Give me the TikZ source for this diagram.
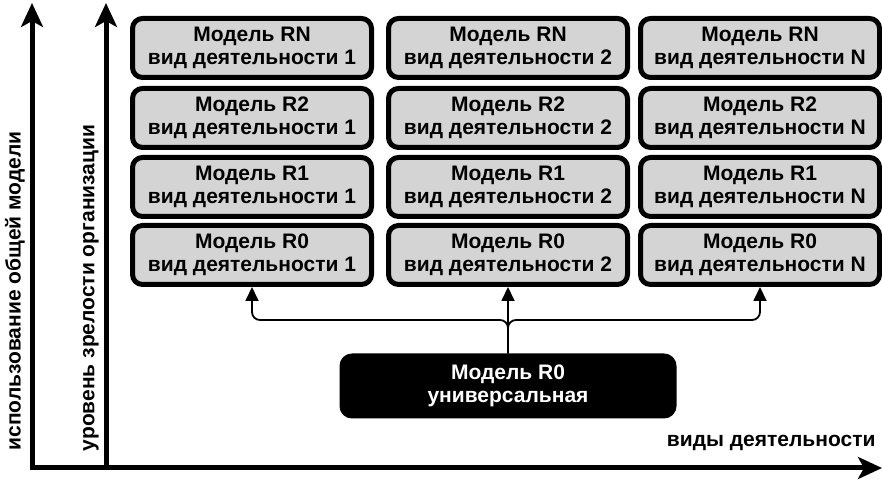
\documentclass[tikz,border=0pt]{standalone}
\usepackage{fontspec}
\setmainfont{Liberation Sans}
\usetikzlibrary{arrows.meta}

\begin{document}
\begin{tikzpicture}[x=1pt,y=1pt,line join=round,
  font=\fontsize{21}{23}\selectfont\bfseries,
  model/.style={draw=black,line width=5pt,fill=black!17,rounded corners=10pt,
    minimum width=239pt,minimum height=59pt,inner sep=0pt,align=center},
  univ/.style={model,fill=black,text=white,minimum width=332pt,minimum height=60pt},
  link/.style={line width=1.8pt,rounded corners=8pt,-{Triangle[length=14pt,width=13pt]}},
  axis/.style={line width=5pt,-{Stealth[length=24pt,width=22pt,inset=6pt]}}]
\useasboundingbox (0,0) rectangle (882,481);
% axes
\draw[axis] (32,10.5) -- (32,478);
\draw[axis] (106,13) -- (106,478);
\draw[axis] (29.5,13) -- (882,13);
\node[rotate=90] (ylab1) at (15,190) {использование общей модели};
\node[rotate=90] (ylab2) at (91,193) {уровень зрелости организации};
\node[anchor=base east] (xlab) at (879,34) {виды деятельности};
% models per activity and level
\foreach \x/\c in {252/1,508/2,760/N}
  \foreach \y/\r in {226/0,294/1,363/2,433/N}
    \node[model] (r\r-\c) at (\x,\y) {Модель R\r\\вид деятельности \c};
\node[univ] (uni) at (508,95) {Модель R0\\универсальная};
% links from the universal model
\draw[link] (uni.north) -- (r0-2.south);
\draw[link] (uni.north) |- ([yshift=-33pt]r0-1.south) -- (r0-1.south);
\draw[link] (uni.north) |- ([yshift=-33pt]r0-N.south) -- (r0-N.south);
\end{tikzpicture}
\end{document}
